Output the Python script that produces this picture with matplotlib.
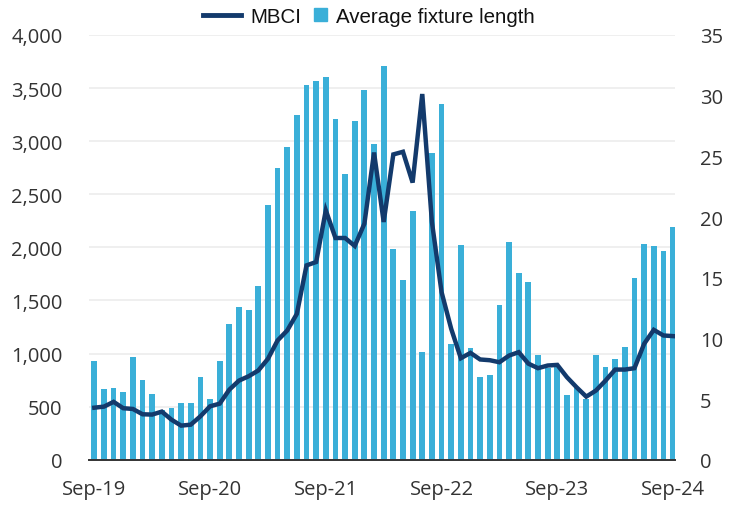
import numpy as np
import pandas as pd
import matplotlib
matplotlib.use('Agg')
import matplotlib.pyplot as plt
from matplotlib.lines import Line2D
from matplotlib.patches import Rectangle, Patch
from matplotlib.legend_handler import HandlerPatch
from matplotlib.ticker import FuncFormatter

# monthly, Sep-19 .. Sep-24
months = pd.date_range('2019-09-01', '2024-09-01', freq='MS')

# MBCI index (left axis)
mbci = [490, 500, 545, 485, 478, 428, 425, 453, 377, 321, 330, 409, 503,
        528, 660, 745, 786, 840, 950, 1123, 1217, 1374, 1830, 1862, 2349,
        2088, 2088, 2013, 2223, 2893, 2239, 2875, 2900, 2610, 3444, 2239,
        1579, 1233, 956, 1006, 944, 937, 918, 981, 1013, 905, 862, 887,
        893, 777, 682, 594, 651, 745, 849, 849, 862, 1091, 1223, 1170, 1164]

# average fixture length (right axis)
fixture_len = [8.15, 5.84, 5.94, 5.56, 8.5, 6.58, 5.45, 4.1, 4.3, 4.68, 4.7,
               6.85, 5.0, 8.1, 11.2, 12.55, 12.3, 14.35, 21.0, 24.0, 25.8,
               28.4, 30.9, 31.2, 31.5, 28.1, 23.55, 27.95, 30.45, 26.0,
               32.45, 17.4, 14.8, 20.5, 8.85, 25.3, 29.35, 9.5, 17.7, 9.2,
               6.8, 7.0, 12.75, 17.95, 15.4, 14.65, 8.65, 7.55, 7.75, 5.35,
               5.95, 5.0, 8.65, 7.6, 8.3, 9.3, 15.0, 17.8, 17.65, 17.2, 19.2]

tick_idx = [0, 12, 24, 36, 48, 60]
tick_labels = [months[i].strftime('%b-%y') for i in tick_idx]

bar_col = '#3aafd8'
line_col = '#133a6c'
txt_col = '#333333'
tick_font = 'Open Sans'

x = np.arange(len(months))

fig = plt.figure(figsize=(7.38, 5.06), dpi=100)
ax = fig.add_axes([0.1206, 0.0895, 0.7940, 0.8394])
ax_bar = ax.twinx()
ax_line = ax.twinx()

# background grid on left scale
ax.set_ylim(0, 4000)
ax.set_yticks(np.arange(0, 4001, 500))
ax.yaxis.set_major_formatter(FuncFormatter(lambda v, p: f'{int(v):,}'))
ax.grid(axis='y', color='#ececec', linewidth=1.2)
ax.set_axisbelow(True)

ax_bar.bar(x, fixture_len, width=0.6, color=bar_col, zorder=2)
ax_bar.set_ylim(0, 35)
ax_bar.set_yticks(np.arange(0, 36, 5))

ax_line.plot(x, mbci, color=line_col, linewidth=3.2, solid_joinstyle='miter')
ax_line.set_ylim(0, 4000)
ax_line.set_yticks([])

ax.set_xlim(-0.55, 60.2)
ax.set_xticks(tick_idx)
ax.set_xticklabels(tick_labels)

for a in (ax, ax_bar, ax_line):
    for s in a.spines.values():
        s.set_visible(False)
    a.tick_params(length=0, labelsize=14.5, colors=txt_col)

ax_bar.tick_params(axis='x', labelbottom=False)
ax_line.tick_params(axis='x', labelbottom=False)
ax.tick_params(axis='y', pad=19)
ax.tick_params(axis='x', pad=14)
ax_bar.tick_params(axis='y', pad=18)

for a in (ax, ax_bar):
    for lab in a.get_yticklabels() + a.get_xticklabels():
        lab.set_fontfamily(tick_font)

ax_line.spines['bottom'].set_visible(True)
ax_line.spines['bottom'].set_color('#333333')
ax_line.spines['bottom'].set_linewidth(1.4)


def square_handle(legend, orig_handle, xdescent, ydescent, width, height, fontsize):
    s = 9.2
    return Rectangle((-xdescent + width - s, -ydescent + (height - s) / 2), s, s)


handles = [Line2D([], [], color=line_col, linewidth=3.5),
           Patch(color=bar_col)]
fig.legend(handles, ['MBCI', 'Average fixture length'], loc='center',
           bbox_to_anchor=(0.5, 0.966), ncol=2, frameon=False,
           prop={'family': 'Liberation Sans', 'size': 14.8}, handlelength=1.85,
           handletextpad=0.44, columnspacing=-0.58, labelcolor='#111111',
           handler_map={Patch: HandlerPatch(patch_func=square_handle)})

fig.savefig('out.png', dpi=100)
